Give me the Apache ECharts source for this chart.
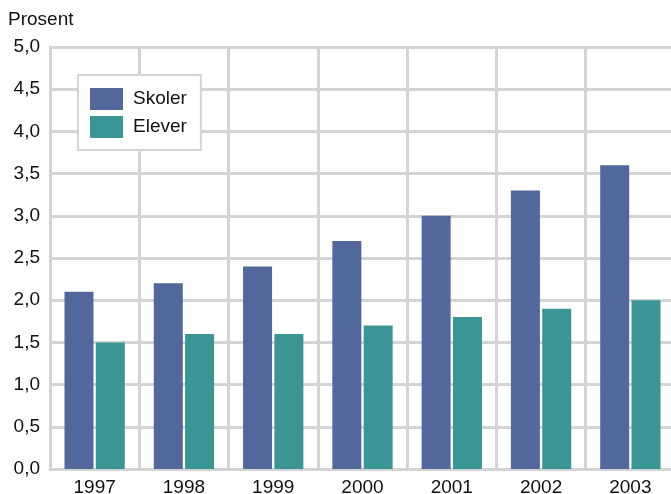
<!DOCTYPE html>
<html>
<head>
<meta charset="utf-8">
<script src="https://cdn.jsdelivr.net/npm/echarts@6/dist/echarts.min.js"></script>
<style>
  html, body { margin: 0; padding: 0; background: #fff; }
  #chart { width: 671px; height: 494px; }
</style>
</head>
<body>
<div id="chart"></div>
<script>
// data
const years = ['1997', '1998', '1999', '2000', '2001', '2002', '2003'];
const skoler = [2.1, 2.2, 2.4, 2.7, 3.0, 3.3, 3.6];
const elever = [1.5, 1.6, 1.6, 1.7, 1.8, 1.9, 2.0];

const FONT = '"Liberation Sans", Arial, sans-serif';
const GRID_COLOR = '#d4d4d4';

let myChart = echarts.init(document.getElementById('chart'), null, { renderer: 'canvas' });

let option = {
	animation: false,
	backgroundColor: '#ffffff',
	title: {
		text: 'Prosent',
		left: 8,
		top: 10,
		padding: 0,
		textStyle: { fontFamily: FONT, fontSize: 19, fontWeight: 'normal', color: '#111' }
	},
	legend: {
		orient: 'vertical',
		left: 78,
		top: 75,
		padding: [13, 14, 12, 12],
		itemWidth: 33,
		itemHeight: 22,
		itemGap: 6,
		borderColor: GRID_COLOR,
		borderWidth: 2,
		backgroundColor: '#ffffff',
		icon: 'rect',
		textStyle: { fontFamily: FONT, fontSize: 19, color: '#111', padding: [0, 0, 0, 5] },
		data: ['Skoler', 'Elever']
	},
	// plot runs a little past the right edge, as in the source
	grid: { left: 50, width: 625, top: 47, height: 422, containLabel: false, outerBoundsMode: 'none' },
	xAxis: {
		type: 'category',
		data: years,
		axisLine: { show: true, lineStyle: { color: GRID_COLOR, width: 3 } },
		axisTick: { show: false },
		splitLine: { show: true, interval: 0, lineStyle: { color: GRID_COLOR, width: 3 } },
		axisLabel: { fontFamily: FONT, fontSize: 19, color: '#111', margin: 9, interval: 0 }
	},
	yAxis: {
		type: 'value',
		min: 0,
		max: 5,
		interval: 0.5,
		axisLine: { show: true, lineStyle: { color: GRID_COLOR, width: 3 } },
		axisTick: { show: false },
		splitLine: { show: true, lineStyle: { color: GRID_COLOR, width: 3 } },
		axisLabel: {
			fontFamily: FONT, fontSize: 19, color: '#111', margin: 10,
			formatter: function (v) { return v.toFixed(1).replace('.', ','); }
		}
	},
	series: [{
		name: 'Skoler',
		type: 'bar',
		data: skoler,
		barWidth: 29,
		barGap: '8%',
		itemStyle: { color: '#52689c' }
	}, {
		name: 'Elever',
		type: 'bar',
		data: elever,
		barWidth: 29,
		barGap: '8%',
		itemStyle: { color: '#3a9595' }
	}]
};

myChart.setOption(option);
</script>
</body>
</html>
